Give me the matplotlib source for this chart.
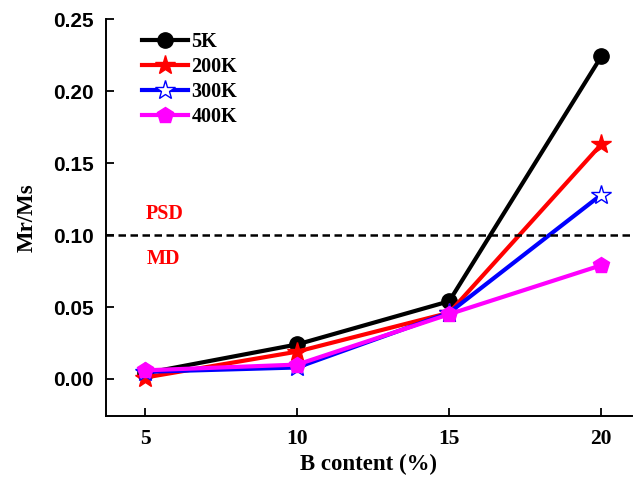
import matplotlib
matplotlib.use("Agg")
import matplotlib.pyplot as plt
from matplotlib.font_manager import FontProperties

b_content = [5, 10, 15, 20]
mr_5k = [0.004, 0.024, 0.054, 0.224]
mr_200k = [0.001, 0.019, 0.046, 0.163]
mr_300k = [0.005, 0.008, 0.046, 0.128]
mr_400k = [0.006, 0.010, 0.045, 0.079]
labels = ["5K", "200K", "300K", "400K"]
threshold = 0.10

serif = {"family": "Liberation Serif", "weight": "bold"}

fig = plt.figure(figsize=(6.33, 4.78), dpi=100)
ax = fig.add_axes([0.1675, 0.1297, 0.8305, 0.8305])

ax.plot(b_content, mr_5k, color="black", lw=3, marker="o", ms=11, label=labels[0])
ax.plot(b_content, mr_200k, color="red", lw=3, marker="*", ms=15, label=labels[1])
ax.plot(b_content, mr_300k, color="blue", lw=3, marker="*", ms=15,
        mfc="white", mec="blue", mew=1, label=labels[2])
ax.plot(b_content, mr_400k, color="magenta", lw=3, marker="p", ms=12, label=labels[3])

ax.axhline(threshold, color="black", lw=1.8, ls=(0, (3, 1.8)))
ax.text(5.66, 0.1143, "PSD", color="red", ha="center", va="center", fontsize=14.5, **serif)
ax.text(5.62, 0.0830, "MD", color="red", ha="center", va="center", fontsize=14.5, **serif)

ax.set_xlim(3.72, 21.0)
ax.set_ylim(-0.0257, 0.25)
ax.set_xticks(b_content)
ax.set_yticks([0.00, 0.05, 0.10, 0.15, 0.20, 0.25])
ax.set_yticklabels(["0.00", "0.05", "0.10", "0.15", "0.20", "0.25"],
                   family="Liberation Sans", weight="bold", fontsize=15)
xfont = FontProperties(family="Liberation Serif", weight="bold", size=15.5)
for t in ax.get_xticklabels():
    t.set_fontproperties(xfont)

ax.tick_params(direction="in", length=6, width=1.3)
ax.tick_params(axis="x", pad=9)
ax.tick_params(axis="y", pad=9)
for s in ["top", "right"]:
    ax.spines[s].set_visible(False)
for s in ["left", "bottom"]:
    ax.spines[s].set_linewidth(1.4)

ax.set_xlabel("B content (%)", fontsize=16.5, labelpad=4, **serif)
ax.set_ylabel("Mr/Ms", fontsize=16.5, labelpad=11, **serif)

ax.legend(loc="upper left", bbox_to_anchor=(0.053, 0.988), frameon=False,
          prop={"family": "Liberation Serif", "weight": "bold", "size": 14.5},
          handlelength=2.3, handletextpad=0.15, labelspacing=0.25, borderaxespad=0)

fig.savefig("out.png", dpi=100)
